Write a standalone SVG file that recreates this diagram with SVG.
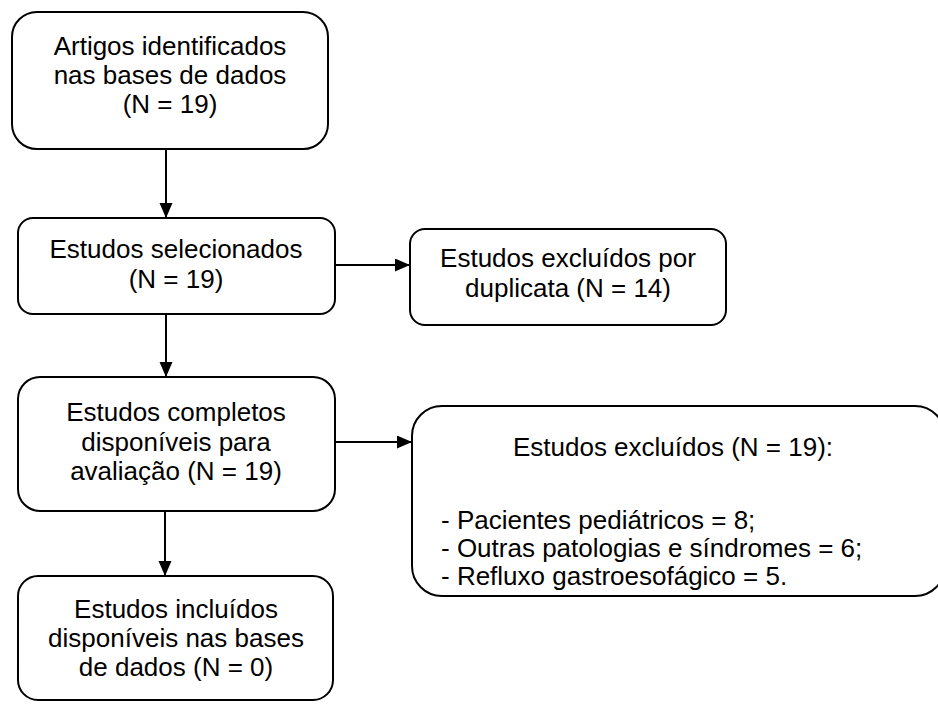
<svg xmlns="http://www.w3.org/2000/svg" width="938" height="704" viewBox="0 0 938 704">
<style>
.box{fill:#fff;stroke:#000;stroke-width:2}
.t{font-family:"Liberation Sans",Arial,sans-serif;font-size:26px;fill:#000}
.c{text-anchor:middle}
.conn{stroke:#000;stroke-width:2;fill:none}
</style>
<defs>
<marker id="ah" markerUnits="userSpaceOnUse" markerWidth="16" markerHeight="14" refX="15" refY="6.5" orient="auto">
<path d="M0,0 L15,6.5 L0,13 Z" fill="#000"/>
</marker>
</defs>
<rect width="938" height="704" fill="#fff"/>
<g id="connectors">
<line class="conn" x1="166" y1="149" x2="166" y2="218" marker-end="url(#ah)"/>
<line class="conn" x1="166" y1="314" x2="166" y2="377" marker-end="url(#ah)"/>
<line class="conn" x1="165" y1="511" x2="165" y2="576" marker-end="url(#ah)"/>
<line class="conn" x1="335" y1="265" x2="410" y2="265" marker-end="url(#ah)"/>
<line class="conn" x1="335" y1="442" x2="412" y2="442" marker-end="url(#ah)"/>
</g>
<g id="n1">
<rect class="box" x="12" y="12" width="316" height="137" rx="25"/>
<text class="t c" x="170" y="55">Artigos identificados</text>
<text class="t c" x="170" y="84">nas bases de dados</text>
<text class="t c" x="170" y="113">(N = 19)</text>
</g>
<g id="n2">
<rect class="box" x="18" y="218" width="317" height="96" rx="15"/>
<text class="t c" x="176" y="258">Estudos selecionados</text>
<text class="t c" x="176" y="288">(N = 19)</text>
</g>
<g id="n3">
<rect class="box" x="410" y="229" width="316" height="96" rx="15"/>
<text class="t c" x="568" y="267">Estudos excluídos por</text>
<text class="t c" x="568" y="297">duplicata (N = 14)</text>
</g>
<g id="n4">
<rect class="box" x="18" y="377" width="317" height="134" rx="22"/>
<text class="t c" x="176" y="421">Estudos completos</text>
<text class="t c" x="176" y="451">disponíveis para</text>
<text class="t c" x="176" y="480">avaliação (N = 19)</text>
</g>
<g id="n5">
<rect class="box" x="412" y="406" width="533" height="190" rx="30"/>
<text class="t c" x="673" y="456">Estudos excluídos (N = 19):</text>
<text class="t" x="441" y="529">- Pacientes pediátricos = 8;</text>
<text class="t" x="441" y="557">- Outras patologias e síndromes = 6;</text>
<text class="t" x="441" y="585">- Refluxo gastroesofágico = 5.</text>
</g>
<g id="n6">
<rect class="box" x="18" y="576" width="315" height="124" rx="20"/>
<text class="t c" x="176" y="618">Estudos incluídos</text>
<text class="t c" x="176" y="647">disponíveis nas bases</text>
<text class="t c" x="176" y="676">de dados (N = 0)</text>
</g>
</svg>
